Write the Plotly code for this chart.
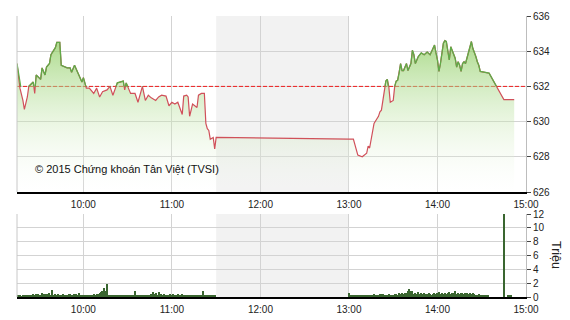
import plotly.graph_objects as go
import pandas as pd

DAY = "2015-06-01 "

# ---- price data (time, index value) ----
price_times = [
    "09:15", "09:16", "09:17", "09:19", "09:20", "09:22", "09:23", "09:26", "09:27", "09:28",
    "09:31", "09:32", "09:34", "09:35", "09:37", "09:38", "09:41", "09:42", "09:44", "09:45",
    "09:49", "09:51", "09:52", "09:54", "09:56", "09:58", "09:59", "10:00", "10:02", "10:04",
    "10:07", "10:09", "10:11", "10:13", "10:16", "10:18", "10:20", "10:23", "10:25", "10:27",
    "10:28", "10:29", "10:32", "10:35", "10:37", "10:40", "10:42", "10:44", "10:46", "10:49",
    "10:51", "10:53", "10:56", "10:58", "11:00", "11:02", "11:04", "11:07", "11:08", "11:10",
    "11:11", "11:12", "11:14", "11:17", "11:18", "11:20", "11:22", "11:23", "11:24", "11:25",
    "11:26", "11:28", "11:29", "11:30",
    "13:00", "13:03", "13:06", "13:09", "13:12", "13:13", "13:14", "13:15", "13:16", "13:17",
    "13:20", "13:21", "13:22", "13:23", "13:24", "13:25", "13:26", "13:27", "13:28", "13:30",
    "13:31", "13:32", "13:33", "13:34", "13:35", "13:36", "13:37", "13:39", "13:40", "13:42",
    "13:43", "13:44", "13:45", "13:47", "13:49", "13:51", "13:53", "13:55", "13:57", "13:58",
    "13:59", "14:00", "14:01", "14:02", "14:04", "14:05", "14:06", "14:07", "14:08", "14:09",
    "14:10", "14:12", "14:13", "14:14", "14:15", "14:16", "14:17", "14:18", "14:19", "14:22",
    "14:23", "14:24", "14:25", "14:26", "14:27", "14:28", "14:29", "14:35", "14:45", "14:52",
]
price_values = [
    633.3, 632.5, 631.9, 631.2, 630.7, 631.4, 632.0, 632.25, 631.6, 632.65,
    632.4, 633.05, 632.65, 633.1, 633.3, 633.8, 634.2, 634.5, 634.5, 633.2,
    633.05, 633.05, 632.8, 633.2, 632.8, 632.5, 632.25, 632.5, 631.9, 631.9,
    631.6, 631.9, 631.4, 631.7, 631.8, 632.0, 631.5, 632.2, 632.25, 632.3,
    631.8, 632.2, 631.6, 631.6, 631.1, 632.0, 631.2, 631.5, 631.35, 631.2,
    631.4, 631.5, 631.45, 630.9, 631.1, 631.0, 631.1, 630.4, 631.45, 631.5,
    631.4, 630.3, 631.0, 630.8, 631.5, 631.6, 631.6, 629.9, 629.6, 629.5,
    629.0, 629.1, 628.45, 629.1,
    629.0, 629.0, 628.1, 628.0, 628.2, 628.6, 628.5, 628.95, 629.6, 629.9,
    630.3, 630.55, 630.65, 631.2, 631.6, 632.3, 632.4, 632.0, 631.1, 631.2,
    632.0, 632.3, 632.35, 632.75, 633.3, 632.9, 632.9, 633.3, 632.9, 633.3,
    634.05, 633.8, 633.3, 633.7, 633.9, 633.8, 633.95, 633.8, 634.15, 634.35,
    633.9, 633.5, 632.85, 633.3, 634.45, 634.6, 634.55, 633.95, 633.5, 634.25,
    634.05, 633.6, 633.1, 633.4, 633.2, 632.85, 633.3, 633.4, 633.3, 634.25,
    634.55, 634.15, 633.95, 633.7, 633.4, 633.2, 632.85, 632.75, 631.25, 631.25,
]
REF_VALUE = 632.0

# ---- volume data (millions, one bar per minute) ----
vol_am_start = "09:15"
vol_am = [
    0.15, 0.25, 0.2, 0.1, 0.3, 0.2, 0.15, 0.35, 0.25, 0.2,
    0.3, 0.45, 0.2, 0.4, 0.5, 0.35, 0.3, 0.55, 0.5, 0.45,
    0.5, 0.4, 0.6, 0.35, 1.0, 0.25, 0.4, 0.3, 0.45, 0.35,
    0.3, 0.5, 0.25, 0.35, 0.3, 0.4, 0.45, 0.3, 0.35, 0.4,
    0.45, 0.35, 0.6, 0.3, 0.25, 0.2, 0.3, 0.15, 0.25, 0.2,
    0.3, 0.25, 0.4, 0.35, 0.5, 0.4, 0.6, 0.7, 0.9, 1.3,
    0.8, 1.9, 0.3, 0.2, 0.35, 0.15, 0.25, 0.2, 0.3, 0.15,
    0.2, 0.25, 0.2, 0.3, 0.15, 0.2, 0.25, 0.3, 0.2, 0.3,
    0.9, 0.2, 0.3, 0.25, 0.2, 0.15, 0.3, 0.2, 0.35, 0.25,
    0.3, 0.4, 0.75, 0.5, 0.6, 0.35, 0.7, 0.4, 0.45, 0.3,
    0.4, 0.3, 0.35, 0.25, 0.4, 0.3, 0.45, 0.35, 0.3, 0.4,
    0.35, 0.25, 0.4, 0.3, 0.2, 0.35, 0.3, 0.25, 0.3, 0.2,
    0.3, 0.25, 0.2, 0.35, 0.15, 0.3, 0.8, 0.2, 0.3, 0.25,
    0.35, 0.2, 0.25, 0.3, 0.2,
]
vol_pm_start = "13:00"
vol_pm = [
    0.6, 0.3, 0.25, 0.3, 0.2, 0.35, 0.25, 0.3, 0.2, 0.25,
    0.3, 0.2, 0.35, 0.25, 0.3, 0.2, 0.3, 0.4, 0.25, 0.3,
    0.35, 0.4, 0.45, 0.4, 0.35, 0.3, 0.25, 0.4, 0.3, 0.35,
    0.3, 0.4, 0.5, 0.35, 0.6, 0.45, 0.55, 0.4, 0.6, 0.65,
    0.8, 1.2, 0.9, 0.85, 0.5, 0.6, 0.45, 0.7, 0.4, 0.55,
    0.45, 0.6, 0.4, 0.5, 0.55, 0.45, 0.35, 0.5, 0.6, 0.45,
    0.55, 0.7, 0.5, 0.6, 0.45, 0.65, 0.5, 0.55, 0.7, 0.45,
    0.6, 0.55, 0.8, 0.5, 0.65, 0.45, 0.6, 0.55, 0.5, 0.6,
    0.65, 0.5, 0.55, 0.45, 0.6, 0.4, 0.35, 0.3, 0.4, 0.3,
    0.25, 0.3, 0.2, 0.25, 0.35,
]
vol_late_times = ["14:45", "14:48", "14:49", "14:50"]
vol_late = [12.0, 0.25, 0.2, 0.25]

# tick / label text
vol_ticks = [0, 2, 4, 6, 8, 10, 12]
price_ticks = [626, 628, 630, 632, 634, 636]
watermark = "© 2015 Chứng khoán Tân Việt (TVSI)"
vol_unit = "Triệu"

# ---- build ----
p_x = pd.to_datetime([DAY + t for t in price_times])
v_x = list(pd.date_range(DAY + vol_am_start, periods=len(vol_am), freq="1min")) + \
      list(pd.date_range(DAY + vol_pm_start, periods=len(vol_pm), freq="1min")) + \
      list(pd.to_datetime([DAY + t for t in vol_late_times]))
v_y = vol_am + vol_pm + vol_late

X0, X1 = DAY + "09:15", DAY + "15:00"
LUNCH0, LUNCH1 = DAY + "11:30", DAY + "13:00"
PMIN, PMAX = 626, 636

W, H = 570, 320
ML, MR, MT, MB = 17, 44, 16, 23
ph = H - MT - MB
top_dom = [(H - MB - 192) / ph, 1.0]
bot_dom = [0.0, (H - MB - 214) / ph]
frac = (REF_VALUE - PMIN) / (PMAX - PMIN)
clip_dom = [top_dom[0] + frac * (top_dom[1] - top_dom[0]), 1.0]

RED = "#d0505a"
GREEN = "#5fab48"
GRID = "#d3d3d3"
FONT = "Arial, Liberation Sans, sans-serif"

fig = go.Figure()

# reference (previous close) dashed line, drawn first so the fill tints it
fig.add_trace(go.Scatter(
    x=[X0, X1], y=[REF_VALUE, REF_VALUE], mode="lines", xaxis="x", yaxis="y",
    line=dict(color="#ee1c1c", width=1, dash="4px,2px"), hoverinfo="skip", showlegend=False,
))
# filled area + red line
fig.add_trace(go.Scatter(
    x=p_x, y=price_values, mode="lines", xaxis="x", yaxis="y",
    line=dict(color=RED, width=1.2), fill="tozeroy",
    fillgradient=dict(type="vertical", start=PMIN, stop=634.3,
                      colorscale=[[0, "rgba(255,255,255,0.1)"],
                                  [1, "rgba(140,205,95,0.68)"]]),
    hoverinfo="skip", showlegend=False,
))
# green part of line (clipped to area above reference)
fig.add_trace(go.Scatter(
    x=p_x, y=price_values, mode="lines", xaxis="x3", yaxis="y3",
    line=dict(color=GREEN, width=1.3), hoverinfo="skip", showlegend=False,
))
# volume bars
fig.add_trace(go.Bar(
    x=v_x, y=v_y, xaxis="x2", yaxis="y2", marker=dict(color="#3a6630", line=dict(width=0)),
    width=50000, hoverinfo="skip", showlegend=False,
))

shapes = [
    dict(type="rect", xref="x", yref="y domain", x0=LUNCH0, x1=LUNCH1, y0=0, y1=1,
         fillcolor="#f2f2f2", line=dict(width=0), layer="below"),
    dict(type="rect", xref="x2", yref="y2 domain", x0=LUNCH0, x1=LUNCH1, y0=0, y1=1,
         fillcolor="#f2f2f2", line=dict(width=0), layer="below"),
    dict(type="line", xref="paper", yref="y domain", x0=0, x1=0, y0=0, y1=1,
         line=dict(color="#c8c8c8", width=1), layer="above"),
    dict(type="line", xref="paper", yref="y2 domain", x0=0, x1=0, y0=0, y1=1,
         line=dict(color="#c8c8c8", width=1), layer="above"),
]

xcommon = dict(type="date", range=[X0, X1], tickformat="%H:%M", dtick=3600000,
               tick0=DAY + "10:00", showgrid=True, gridcolor=GRID, gridwidth=1,
               showline=True, linecolor="#000000", linewidth=2, ticks="outside",
               ticklen=2, tickcolor="rgba(0,0,0,0)", automargin=False,
               tickfont=dict(family=FONT, size=10, color="#222"), zeroline=False,
               fixedrange=True)
ycommon = dict(side="right", showgrid=True, gridcolor=GRID, gridwidth=1, zeroline=False,
               showline=True, linecolor="#bdbdbd", linewidth=1, ticks="outside",
               ticklen=4, tickcolor="#444", tickfont=dict(family=FONT, size=10, color="#222"),
               fixedrange=True, automargin=False)

fig.update_layout(
    width=W, height=H,
    margin=dict(l=ML, r=MR, t=MT, b=MB, pad=0, autoexpand=False),
    paper_bgcolor="white", plot_bgcolor="rgba(0,0,0,0)",
    showlegend=False, bargap=0,
    xaxis=dict(xcommon, domain=[0, 1], anchor="y"),
    yaxis=dict(ycommon, domain=top_dom, anchor="x", range=[PMIN, PMAX],
               tickvals=price_ticks, ticktext=[str(v) for v in price_ticks]),
    xaxis2=dict(xcommon, domain=[0, 1], anchor="y2"),
    yaxis2=dict(ycommon, domain=bot_dom, anchor="x2", range=[0, 12],
                tickvals=vol_ticks, ticktext=[str(v) for v in vol_ticks]),
    xaxis3=dict(type="date", range=[X0, X1], domain=[0, 1], anchor="y3", visible=False,
                showgrid=False, fixedrange=True, automargin=False),
    yaxis3=dict(range=[REF_VALUE, PMAX], domain=clip_dom, anchor="x3", visible=False,
                showgrid=False, fixedrange=True, automargin=False),
    shapes=shapes,
    annotations=[
        dict(text=watermark, xref="paper", yref="paper", x=(33 - ML) / (W - ML - MR),
             y=(H - MB - 169) / ph, xanchor="left", yanchor="middle", showarrow=False,
             font=dict(family=FONT, size=11, color="#111")),
        dict(text=vol_unit, xref="paper", yref="paper", x=(556 - ML) / (W - ML - MR),
             y=(H - MB - 255) / ph, xanchor="center", yanchor="middle", showarrow=False,
             textangle=90, font=dict(family=FONT, size=12.5, color="#222")),
    ],
)

fig.write_html("out.html")
